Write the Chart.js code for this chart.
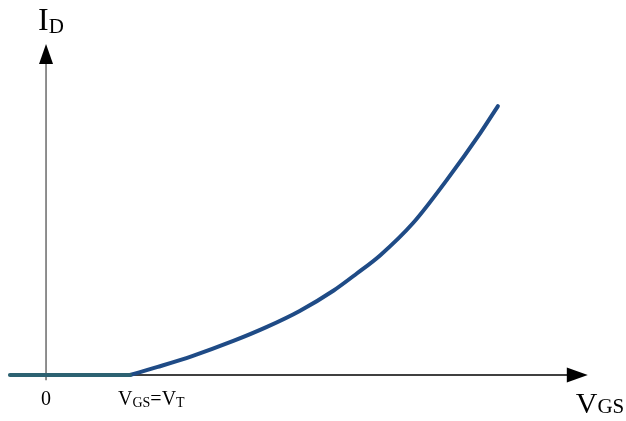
<!DOCTYPE html>
<html>
<head>
<meta charset="utf-8">
<script src="https://cdn.jsdelivr.net/npm/chart.js@4/dist/chart.umd.min.js"></script>
<style>
  html, body { margin: 0; padding: 0; background: #fff; }
  #wrap { width: 626px; height: 421px; }
</style>
</head>
<body>
<div id="wrap"><canvas id="chart_transfer" width="626" height="421"></canvas></div>
<script>
// Transfer characteristic I_D vs V_GS (units normalised so that V_T = 1)
const VT = 1;
const offVgs = [-0.43, 1.0];
const offId = [0, 0];
const onVgs = [1.0, 1.33, 1.74, 2.23, 2.63, 3.02, 3.42, 3.70, 3.98, 4.37, 4.77, 5.17, 5.38];
const onId = [0, 0.30, 0.70, 1.26, 1.78, 2.37, 3.12, 3.76, 4.44, 5.63, 7.22, 8.96, 9.96];

// axis extents (data units)
const xAxisStart = -0.43;
const xAxisEnd = 6.45;
const yAxisStart = -0.19;
const yAxisEnd = 12.26;

const toPoints = (xs, ys) => xs.map((x, i) => ({ x, y: ys[i] }));

const SERIF = '"Liberation Serif", "DejaVu Serif", serif';

// draws text with a subscript part right after it
const subText = (ctx, x, baseY, main, sub, mainSize, subSize, subDrop) => {
  ctx.font = `${mainSize}px ${SERIF}`;
  ctx.fillText(main, x, baseY);
  const w = ctx.measureText(main).width;
  ctx.font = `${subSize}px ${SERIF}`;
  ctx.fillText(sub, x + w, baseY + subDrop);
  return x + w + ctx.measureText(sub).width;
};

const axesPlugin = {
  id: 'arrowAxes',
  beforeDatasetsDraw(chart) {
    const { ctx, scales: { x, y } } = chart;
    const ox = x.getPixelForValue(0);
    const oy = y.getPixelForValue(0);
    ctx.save();

    // vertical axis
    const yTop = y.getPixelForValue(yAxisEnd);
    ctx.strokeStyle = '#444';
    ctx.lineWidth = 1.2;
    ctx.beginPath();
    ctx.moveTo(ox, y.getPixelForValue(yAxisStart));
    ctx.lineTo(ox, yTop + 15);
    ctx.stroke();
    ctx.fillStyle = '#000';
    ctx.beginPath();
    ctx.moveTo(ox, yTop);
    ctx.lineTo(ox - 7, yTop + 20);
    ctx.lineTo(ox + 7, yTop + 20);
    ctx.closePath();
    ctx.fill();

    // horizontal axis
    const xEnd = x.getPixelForValue(xAxisEnd);
    ctx.strokeStyle = '#000';
    ctx.lineWidth = 1.5;
    ctx.beginPath();
    ctx.moveTo(x.getPixelForValue(xAxisStart), oy);
    ctx.lineTo(xEnd - 15, oy);
    ctx.stroke();
    ctx.beginPath();
    ctx.moveTo(xEnd, oy);
    ctx.lineTo(xEnd - 21, oy - 7.5);
    ctx.lineTo(xEnd - 21, oy + 7.5);
    ctx.closePath();
    ctx.fill();
    ctx.restore();
  },
  afterDraw(chart) {
    const { ctx, scales: { x, y } } = chart;
    const ox = x.getPixelForValue(0);
    const oy = y.getPixelForValue(0);
    ctx.save();
    ctx.fillStyle = '#000';
    ctx.textBaseline = 'alphabetic';

    // I_D
    subText(ctx, ox - 8, 30, 'I', 'D', 32, 21, 3);

    // origin
    ctx.font = `20px ${SERIF}`;
    ctx.fillText('0', ox - 5, oy + 30);

    // V_GS = V_T
    const vtx = x.getPixelForValue(VT);
    let cx = subText(ctx, vtx - 12, oy + 30, 'V', 'GS', 20, 14, 2);
    cx = subText(ctx, cx, oy + 30, '=V', 'T', 20, 14, 2);

    // V_GS axis title
    subText(ctx, x.getPixelForValue(xAxisEnd) - 12, oy + 38, 'V', 'GS', 30, 21, 0);
    ctx.restore();
  }
};

new Chart(document.getElementById('chart_transfer').getContext('2d'), {
  type: 'scatter',
  data: {
    datasets: [
      {
        data: toPoints(offVgs, offId),
        showLine: true,
        borderColor: '#2d6272',
        borderWidth: 4,
        borderCapStyle: 'round',
        pointRadius: 0
      },
      {
        data: toPoints(onVgs, onId),
        showLine: true,
        borderColor: '#1f4b86',
        borderWidth: 4,
        borderCapStyle: 'round',
        cubicInterpolationMode: 'monotone',
        pointRadius: 0
      }
    ]
  },
  options: {
    responsive: false,
    animation: false,
    layout: { padding: 0 },
    scales: {
      x: { type: 'linear', display: false, min: -0.548, max: 6.905 },
      y: { type: 'linear', display: false, min: -1.704, max: 13.89 }
    },
    plugins: {
      legend: { display: false },
      tooltip: { enabled: false }
    }
  },
  plugins: [axesPlugin]
});
</script>
</body>
</html>
